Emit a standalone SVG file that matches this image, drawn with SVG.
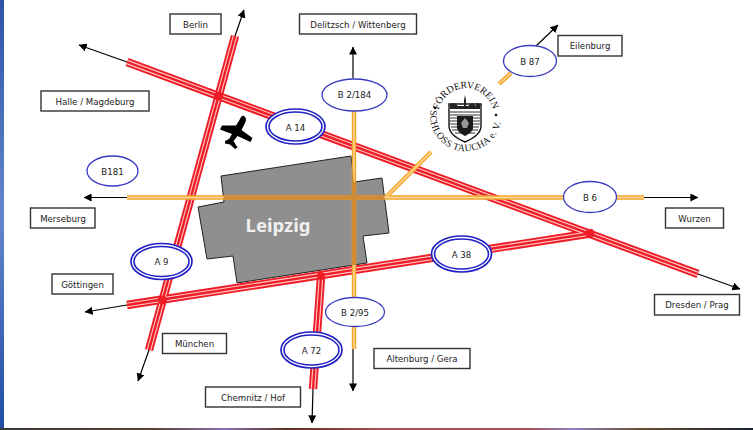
<svg xmlns="http://www.w3.org/2000/svg" width="753" height="430" viewBox="0 0 753 430">
<style>
text{font-family:"DejaVu Sans",sans-serif;font-size:8.6px;fill:#222;text-anchor:middle;dominant-baseline:central}
.box{fill:#fff;stroke:#333;stroke-width:1.4}
.e1{fill:#fff;stroke:#3a3ac0;stroke-width:1.3}
.e2o{fill:#fff;stroke:#2020c4;stroke-width:1.7}
.e2i{fill:none;stroke:#2020c4;stroke-width:1.6}
.rr,.r2,.r3,.oo,.o2,.o3{fill:none}
.rr{stroke:#ee1c25;stroke-width:8.400}
.r2{stroke:#ffcaca;stroke-width:4.600}
.r3{stroke:#ee1c25;stroke-width:2.400}
.oo{stroke:#f2a42c;stroke-width:4.400}
.o2{stroke:#ffdc9c;stroke-width:1.400}
.o3{stroke:#cf8c34;stroke-width:4.400}
.ar{stroke:#000;stroke-width:1.2;fill:none;marker-end:url(#ah)}
text.logo{font-family:"Liberation Serif",serif;font-size:9.800px;fill:#111;text-anchor:start;dominant-baseline:auto}
</style>
<defs>
<marker id="ah" viewBox="0 0 10 10" refX="9.500" refY="5" markerWidth="8" markerHeight="8" markerUnits="userSpaceOnUse" orient="auto"><path d="M0 0L10 5L0 10Z" fill="#000"/></marker>
<linearGradient id="bar" x1="0" y1="0" x2="0" y2="1"><stop offset="0" stop-color="#2c54a8"/><stop offset=".5" stop-color="#6486cc"/><stop offset="1" stop-color="#1f4ca6"/></linearGradient>
<linearGradient id="strip" x1="0" y1="0" x2="1" y2="0"><stop offset="0" stop-color="#3a3a3a"/><stop offset=".2" stop-color="#5a4030"/><stop offset=".3" stop-color="#8a70b0"/><stop offset=".38" stop-color="#5a3020"/><stop offset=".5" stop-color="#a05050"/><stop offset=".7" stop-color="#a05050"/><stop offset=".76" stop-color="#9080c0"/><stop offset=".85" stop-color="#6a5030"/><stop offset="1" stop-color="#182030"/></linearGradient>
<clipPath id="cityclip"><path d="M221 176L351 156L354 182L382 178L389 233L363 236L367 263L237 283L233 256L207 259L198 207L224 202Z"/></clipPath>
<path id="a14" d="M127 62L698 274"/>
<path id="a9" d="M235 36L149 350"/>
<path id="a38" d="M127 305L593 233"/>
<path id="a72" d="M321 277L313 389"/>
<path id="b2" d="M354 110V349"/>
<path id="b6" d="M127 197.500H644"/>
<path id="b87a" d="M386 197L431 152"/>
<path id="b87b" d="M499 84L511 73"/>
<path id="arcT" d="M439 110A27.500 27.500 0 0 1 493 111"/>
<path id="arcB" d="M430.500 110A35.500 35.500 0 1 0 501 121"/>
</defs>
<rect width="753" height="430" fill="#fff"/>
<rect width="4" height="430" fill="url(#bar)"/>
<rect y="428" width="753" height="2" fill="url(#strip)"/>
<g id="city"><path d="M221 176L351 156L354 182L382 178L389 233L363 236L367 263L237 283L233 256L207 259L198 207L224 202Z" fill="#8f8f8f" stroke="#222" stroke-width="1"/></g>
<g id="connectors">
<path class="ar" d="M127 62L79 45"/>
<path class="ar" d="M698 274L740 289"/>
<path class="ar" d="M235 36L244 10"/>
<path class="ar" d="M149 350L138 381"/>
<path class="ar" d="M127 305L85 312"/>
<path class="ar" d="M313 389L312 423"/>
<path class="ar" d="M353 78V47"/>
<path class="ar" d="M353 349V391"/>
<path class="ar" d="M127 197.500H84"/>
<path class="ar" d="M644 197.500H698"/>
<path class="ar" d="M536 46L558 25"/>
<use href="#a14" class="rr"/><use href="#a9" class="rr"/><use href="#a38" class="rr"/><use href="#a72" class="rr"/>
<use href="#a14" class="r2"/><use href="#a9" class="r2"/><use href="#a38" class="r2"/><use href="#a72" class="r2"/>
<use href="#a14" class="r3"/><use href="#a9" class="r3"/><use href="#a38" class="r3"/><use href="#a72" class="r3"/>
<g fill="#ee1c25"><circle cx="218.500" cy="96" r="4.500"/><circle cx="162.500" cy="300" r="4.500"/><circle cx="590" cy="233.500" r="4.500"/><circle cx="321" cy="276" r="4"/></g>
<use href="#b2" class="oo"/><use href="#b6" class="oo"/><use href="#b87a" class="oo"/><use href="#b87b" class="oo"/>
<use href="#b2" class="o2"/><use href="#b6" class="o2"/><use href="#b87a" class="o2"/><use href="#b87b" class="o2"/>
<g clip-path="url(#cityclip)"><use href="#b2" class="o3"/><use href="#b6" class="o3"/></g>
</g>
<g id="plane"><path d="M244 116C246.500 118 246.500 120 245 123L241.500 130L252.500 138L250.500 142L237.500 136L233.500 141L237.500 147.500L235 149L230 144.500L225 143.500L225 141L229 139L232 134L220 129.500L222 125.500L236 125.500L240 119C241 117 242 115 244 116Z" fill="#000"/></g>
<g id="logo">
<text class="logo"><textPath href="#arcT" startOffset="0">FÖRDERVEREIN</textPath></text>
<text class="logo" letter-spacing=".3"><textPath href="#arcB" startOffset="0">SCHLOSS TAUCHA e. V.</textPath></text>
<circle cx="435" cy="108" r="1.300" fill="#111"/><circle cx="496" cy="115" r="1.300" fill="#111"/>
<path d="M449 104H481V126C481 134 472 139 465 142C458 139 449 134 449 126Z" fill="#fff" stroke="#111" stroke-width="1.400"/>
<path d="M450 104V109H480V104L476 103V106L472 103L468 106H466V100L465 95L464 100V106H458L454 103Z" fill="#222"/>
<path d="M450 112H480M450 115H480M450 118H480M450 121H480M450 124H480M451 127H479M452 130H478M455 133H475" stroke="#333" stroke-width="1"/>
<path d="M457 116H473V128C473 131 469 134 465 136C461 134 457 131 457 128Z" fill="#1b1b1b"/>
<path d="M465 118L469 123L467 128H463L461 123Z" fill="#999"/>
</g>
<g id="n-berlin"><rect class="box" x="170" y="14" width="51" height="20"/><text x="195.500" y="24.500">Berlin</text></g>
<g id="n-delitzsch"><rect class="box" x="299.500" y="14" width="117" height="20"/><text x="358" y="24.500">Delitzsch / Wittenberg</text></g>
<g id="n-eilenburg"><rect class="box" x="558" y="35.500" width="64" height="20.500"/><text x="590" y="46">Eilenburg</text></g>
<g id="n-halle"><rect class="box" x="41" y="91" width="108" height="20"/><text x="95" y="101.500">Halle / Magdeburg</text></g>
<g id="n-merseburg"><rect class="box" x="30.500" y="208" width="64.500" height="20"/><text x="63" y="218.500">Merseburg</text></g>
<g id="n-wurzen"><rect class="box" x="665.500" y="208" width="58" height="20"/><text x="694.500" y="218.500">Wurzen</text></g>
<g id="n-goettingen"><rect class="box" x="52" y="274" width="61" height="20"/><text x="82.500" y="284.500">Göttingen</text></g>
<g id="n-muenchen"><rect class="box" x="162.500" y="333.500" width="64" height="20"/><text x="194.500" y="344">München</text></g>
<g id="n-chemnitz"><rect class="box" x="205.500" y="387" width="95" height="20"/><text x="253" y="397.500">Chemnitz / Hof</text></g>
<g id="n-altenburg"><rect class="box" x="374" y="348.500" width="96" height="20"/><text x="422" y="359">Altenburg / Gera</text></g>
<g id="n-dresden"><rect class="box" x="654.500" y="294.500" width="85" height="20.500"/><text x="697" y="305">Dresden / Prag</text></g>
<g id="n-leipzig"><text x="278" y="224" style="font-family:'Noto Sans',sans-serif;font-size:18.500px;font-weight:700;fill:#f0f0f0">Leipzig</text></g>
<g id="n-a14"><ellipse class="e2o" cx="295.500" cy="126.500" rx="29.500" ry="17.500"/><ellipse class="e2i" cx="295.500" cy="126.500" rx="26.500" ry="14.500"/><text x="295.500" y="128">A 14</text></g>
<g id="n-a9"><ellipse class="e2o" cx="161.500" cy="261.500" rx="30.500" ry="18"/><ellipse class="e2i" cx="161.500" cy="261.500" rx="27.500" ry="15"/><text x="161.500" y="262">A 9</text></g>
<g id="n-a38"><ellipse class="e2o" cx="461.500" cy="254" rx="30" ry="18"/><ellipse class="e2i" cx="461.500" cy="254" rx="27" ry="15"/><text x="461.500" y="254.500">A 38</text></g>
<g id="n-a72"><ellipse class="e2o" cx="311.500" cy="350" rx="30.500" ry="18"/><ellipse class="e2i" cx="311.500" cy="350" rx="27.500" ry="15"/><text x="311.500" y="350.500">A 72</text></g>
<g id="n-b2184"><ellipse class="e1" cx="354.500" cy="95" rx="32.500" ry="16"/><text x="354.500" y="95">B 2/184</text></g>
<g id="n-b181"><ellipse class="e1" cx="112.500" cy="171" rx="25.500" ry="15"/><text x="112.500" y="171.500">B181</text></g>
<g id="n-b87"><ellipse class="e1" cx="530" cy="61" rx="26.500" ry="15.500"/><text x="530" y="61.500">B 87</text></g>
<g id="n-b6"><ellipse class="e1" cx="590" cy="197" rx="26.500" ry="15.500"/><text x="590" y="197.500">B 6</text></g>
<g id="n-b295"><ellipse class="e1" cx="355" cy="312" rx="29.500" ry="14.500"/><text x="355" y="313">B 2/95</text></g>
</svg>
